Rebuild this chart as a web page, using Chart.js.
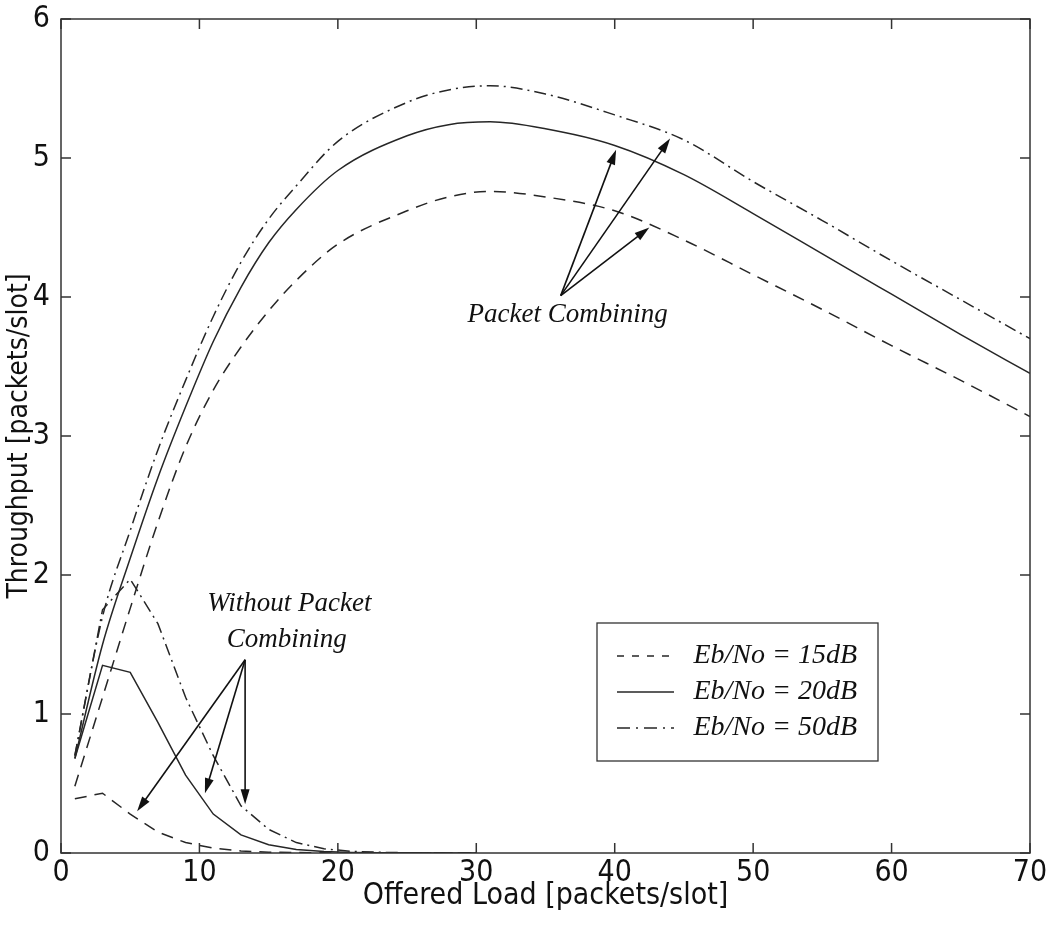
<!DOCTYPE html>
<html>
<head>
<meta charset="utf-8">
<script src="https://cdn.jsdelivr.net/npm/chart.js@4.4.0/dist/chart.umd.min.js"></script>
<style>
  html, body { margin: 0; padding: 0; background: #fff; }
  #wrap { width: 1053px; height: 928px; }
</style>
</head>
<body>
<div id="wrap"><canvas id="chart" width="1053" height="928"></canvas></div>
<script>
// offered load [packets/slot]
const loadPC = [1, 3, 5, 7, 9, 11, 13, 15, 17, 20, 25, 28, 31, 35, 40, 45, 50, 55, 60, 65, 70];
const loadNoPC = [1, 3, 5, 7, 9, 11, 13, 15, 17, 19, 21, 23, 25, 27, 30];

// throughput with packet combining
const pc15 = [0.48, 1.12, 1.76, 2.38, 2.92, 3.33, 3.64, 3.90, 4.12, 4.38, 4.62, 4.72, 4.76, 4.72, 4.62, 4.41, 4.16, 3.91, 3.65, 3.40, 3.14];
const pc20 = [0.68, 1.50, 2.12, 2.70, 3.21, 3.68, 4.07, 4.39, 4.63, 4.91, 5.16, 5.24, 5.26, 5.21, 5.09, 4.88, 4.60, 4.31, 4.02, 3.73, 3.45];
const pc50 = [0.70, 1.70, 2.32, 2.90, 3.40, 3.86, 4.25, 4.56, 4.80, 5.12, 5.40, 5.49, 5.52, 5.46, 5.31, 5.13, 4.83, 4.55, 4.26, 3.98, 3.70];

// throughput without packet combining
const no15 = [0.39, 0.43, 0.28, 0.15, 0.075, 0.035, 0.015, 0.006, 0.003, 0.001, 0, 0, 0, 0, 0];
const no20 = [0.68, 1.35, 1.30, 0.94, 0.56, 0.28, 0.13, 0.06, 0.025, 0.01, 0.004, 0.002, 0.001, 0, 0];
const no50 = [0.70, 1.75, 1.97, 1.65, 1.12, 0.70, 0.34, 0.17, 0.075, 0.03, 0.012, 0.005, 0.002, 0.001, 0];

const legendLabels = ['Eb/No = 15dB', 'Eb/No = 20dB', 'Eb/No = 50dB'];

// annotation anchors, in data units
const pcText = 'Packet Combining';
const pcTextAt = [36.6, 3.87];
const pcFrom = [36.1, 4.01];
const pcTo = [[40.1, 5.06], [44.0, 5.14], [42.5, 4.50]];
const noText = ['Without Packet', 'Combining'];
const noTextAt = [[16.5, 1.79], [16.3, 1.53]];
const noFrom = [13.3, 1.39];
const noTo = [[5.5, 0.30], [10.4, 0.43], [13.3, 0.35]];

const INK = '#262626';
const DASH = [12, 8];
const DASHDOT = [12, 5, 2, 5];
const sansFont = "'Liberation Sans Narrow', 'DejaVu Sans Condensed', 'Liberation Sans', Arial, sans-serif";
const serifFont = "'Liberation Serif', 'Times New Roman', serif";

function pts(xs, ys) {
    return xs.map((x, i) => ({ x: x, y: ys[i] }));
}

function line(data, dash, smooth) {
    return {
        data: data,
        borderColor: INK,
        borderWidth: 1.5,
        borderDash: dash,
        pointRadius: 0,
        fill: false,
        cubicInterpolationMode: smooth ? 'monotone' : 'default',
        tension: 0
    };
}

const frame = {
    id: 'frame',
    afterDraw(chart) {
        const { ctx, chartArea: a, scales: { x, y } } = chart;
        ctx.save();
        ctx.strokeStyle = '#333';
        ctx.lineWidth = 1.5;
        ctx.setLineDash([]);
        ctx.strokeRect(a.left, a.top, a.right - a.left, a.bottom - a.top);
        const len = 10;
        ctx.beginPath();
        x.ticks.forEach(t => {
            const px = x.getPixelForValue(t.value);
            ctx.moveTo(px, a.bottom); ctx.lineTo(px, a.bottom - len);
            ctx.moveTo(px, a.top); ctx.lineTo(px, a.top + len);
        });
        y.ticks.forEach(t => {
            const py = y.getPixelForValue(t.value);
            ctx.moveTo(a.left, py); ctx.lineTo(a.left + len, py);
            ctx.moveTo(a.right, py); ctx.lineTo(a.right - len, py);
        });
        ctx.stroke();
        ctx.restore();
    }
};

function arrow(ctx, x1, y1, x2, y2) {
    const ang = Math.atan2(y2 - y1, x2 - x1);
    const hl = 15, hw = 4.5;
    ctx.beginPath();
    ctx.moveTo(x1, y1);
    ctx.lineTo(x2 - Math.cos(ang) * hl * 0.8, y2 - Math.sin(ang) * hl * 0.8);
    ctx.stroke();
    ctx.beginPath();
    ctx.moveTo(x2, y2);
    ctx.lineTo(x2 - Math.cos(ang) * hl - Math.sin(ang) * hw, y2 - Math.sin(ang) * hl + Math.cos(ang) * hw);
    ctx.lineTo(x2 - Math.cos(ang) * hl + Math.sin(ang) * hw, y2 - Math.sin(ang) * hl - Math.cos(ang) * hw);
    ctx.closePath();
    ctx.fill();
}

const notes = {
    id: 'notes',
    afterDraw(chart) {
        const { ctx, scales: { x, y } } = chart;
        const X = v => x.getPixelForValue(v);
        const Y = v => y.getPixelForValue(v);
        ctx.save();
        ctx.strokeStyle = '#111';
        ctx.fillStyle = '#111';
        ctx.lineWidth = 1.6;
        ctx.setLineDash([]);
        pcTo.forEach(p => arrow(ctx, X(pcFrom[0]), Y(pcFrom[1]), X(p[0]), Y(p[1])));
        noTo.forEach(p => arrow(ctx, X(noFrom[0]), Y(noFrom[1]), X(p[0]), Y(p[1])));
        ctx.font = 'italic 27px ' + serifFont;
        ctx.textAlign = 'center';
        ctx.textBaseline = 'middle';
        ctx.fillText(pcText, X(pcTextAt[0]), Y(pcTextAt[1]));
        noText.forEach((t, i) => ctx.fillText(t, X(noTextAt[i][0]), Y(noTextAt[i][1])));
        ctx.restore();
    }
};

const legendBox = {
    id: 'legendBox',
    afterDraw(chart) {
        const ctx = chart.ctx;
        const left = 597, top = 623, right = 878, bottom = 761;
        const rows = [656, 692, 728];
        const dashes = [[7, 8], [], [13, 6, 2, 6]];
        ctx.save();
        ctx.fillStyle = '#fff';
        ctx.fillRect(left, top, right - left, bottom - top);
        ctx.strokeStyle = '#333';
        ctx.lineWidth = 1.3;
        ctx.strokeRect(left, top, right - left, bottom - top);
        ctx.font = 'italic 28px ' + serifFont;
        ctx.fillStyle = '#111';
        ctx.textBaseline = 'middle';
        ctx.textAlign = 'right';
        legendLabels.forEach((lab, i) => {
            ctx.strokeStyle = INK;
            ctx.lineWidth = 1.5;
            ctx.setLineDash(dashes[i]);
            ctx.beginPath();
            ctx.moveTo(617, rows[i]);
            ctx.lineTo(674, rows[i]);
            ctx.stroke();
            ctx.fillText(lab, 857, rows[i]);
        });
        ctx.restore();
    }
};

new Chart(document.getElementById('chart').getContext('2d'), {
    type: 'line',
    data: {
        datasets: [
            line(pts(loadPC, pc15), DASH, true),
            line(pts(loadPC, pc20), [], true),
            line(pts(loadPC, pc50), DASHDOT, true),
            line(pts(loadNoPC, no15), DASH, false),
            line(pts(loadNoPC, no20), [], false),
            line(pts(loadNoPC, no50), DASHDOT, false)
        ]
    },
    options: {
        responsive: false,
        animation: false,
        layout: { padding: { left: 0, right: 23, top: 19, bottom: 0 } },
        plugins: {
            legend: { display: false },
            tooltip: { enabled: false }
        },
        scales: {
            x: {
                type: 'linear',
                min: 0,
                max: 70,
                grid: { display: false, drawTicks: false },
                border: { display: false },
                ticks: { stepSize: 10, font: { family: sansFont, size: 30 }, color: '#111', padding: 2, maxRotation: 0 },
                title: {
                    display: true,
                    text: 'Offered Load [packets/slot]',
                    font: { family: sansFont, size: 30 },
                    color: '#111',
                    padding: { top: 0, bottom: 14 }
                },
                afterFit: s => { s.height = 75; }
            },
            y: {
                min: 0,
                max: 6,
                grid: { display: false, drawTicks: false },
                border: { display: false },
                ticks: { stepSize: 1, font: { family: sansFont, size: 30, lineHeight: 0.4 }, color: '#111', padding: 11 },
                title: {
                    display: true,
                    text: 'Throughput [packets/slot]',
                    font: { family: sansFont, size: 28 },
                    color: '#111',
                    padding: { top: 3, bottom: 0 }
                },
                afterFit: s => { s.width = 61; }
            }
        }
    },
    plugins: [frame, notes, legendBox]
});
</script>
</body>
</html>
